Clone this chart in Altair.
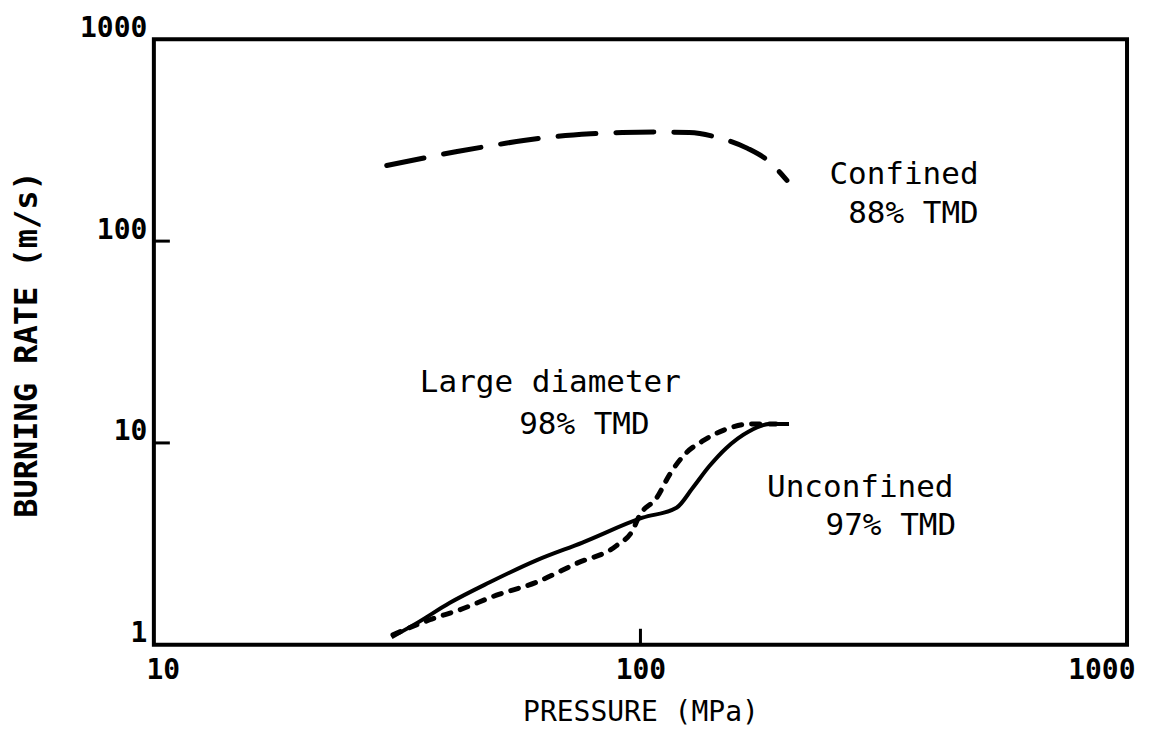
import altair as alt
import pandas as pd

# Confined, 88% TMD (long dashes)
conf_p = [30.1, 36.4, 42.0, 49.7, 57.5, 67.2, 79.0, 91.8, 108, 126, 145, 166, 183, 200]
conf_r = [237, 260, 278, 298, 315, 330, 340, 345, 347, 345, 325, 288, 250, 200]

# Unconfined, 97% TMD (solid)
unc_p = [30.8, 34.7, 40.5, 49.0, 61.1, 76.0, 101, 118.6, 128, 138.6, 150, 167, 184, 202]
unc_r = [1.09, 1.28, 1.61, 2.04, 2.62, 3.21, 4.26, 4.77, 5.98, 7.68, 9.42, 11.4, 12.4, 12.4]

# Large diameter, 98% TMD (dotted)
lrg_p = [31.0, 36.9, 42.5, 50.6, 61.1, 73.9, 89.3, 96.3, 99.5, 108, 115, 124, 134, 150, 167, 190]
lrg_r = [1.12, 1.33, 1.49, 1.76, 2.04, 2.53, 3.10, 3.68, 4.36, 5.35, 7.02, 8.90, 10.2, 11.7, 12.4, 12.4]

# annotations
ann_text = ["Confined", "88% TMD", "Large diameter", "98% TMD", "Unconfined", "97% TMD"]
ann_p = [348, 364, 65.3, 76.7, 283, 327]
ann_r = [212, 136, 19.7, 12.2, 5.98, 3.89]

x_ticks = [10, 100, 1000]
y_ticks = [1, 10, 100, 1000]

FONT = "DejaVu Sans Mono"

def frame(p, r):
    return pd.DataFrame({"p": p, "r": r, "i": list(range(len(p)))})

xs = alt.Scale(type="log", domain=[10, 1000])
ys = alt.Scale(type="log", domain=[1, 1000])

xenc = alt.X("p:Q", scale=xs, axis=alt.Axis(
    values=x_ticks, format="d", title="PRESSURE (MPa)", grid=False, domain=False, ticks=False,
    labelFont=FONT, labelFontSize=28, labelFontWeight="bold", labelColor="black",
    labelPadding=12, labelFlush=True, labelFlushOffset=8,
    titleFont=FONT, titleFontSize=28, titleFontWeight="normal", titleColor="black",
    titleY=68, titleBaseline="middle"))
yenc = alt.Y("r:Q", scale=ys, axis=alt.Axis(
    values=y_ticks, format="d", title="BURNING RATE (m/s)", grid=False, domain=False, ticks=False,
    labelFont=FONT, labelFontSize=28, labelFontWeight="bold", labelColor="black",
    labelPadding=7, labelBaseline="alphabetic", labelOffset=-3,
    titleFont=FONT, titleFontSize=32, titleFontWeight="bold", titleColor="black",
    titleX=-127, titleY=305, titleAngle=-90, titleAlign="center", titleBaseline="middle"))

confined = alt.Chart(frame(conf_p, conf_r)).mark_line(
    color="black", strokeWidth=5, strokeDash=[38, 20], interpolate="monotone", strokeCap="round"
).encode(x=xenc, y=yenc, order="i:Q")

unconf = alt.Chart(frame(unc_p, unc_r)).mark_line(
    color="black", strokeWidth=4, interpolate="monotone"
).encode(x="p:Q", y="r:Q", order="i:Q")

large = alt.Chart(frame(lrg_p, lrg_r)).mark_line(
    color="black", strokeWidth=5, strokeDash=[8, 10], interpolate="monotone", strokeCap="round"
).encode(x="p:Q", y="r:Q", order="i:Q")

ann = alt.Chart(pd.DataFrame({"t": ann_text, "p": ann_p, "r": ann_r})).mark_text(
    font=FONT, fontSize=31, color="black", align="center", baseline="middle"
).encode(x="p:Q", y="r:Q", text="t:N")

xtick = alt.Chart(pd.DataFrame({"p": [100]})).mark_rule(color="black", strokeWidth=3).encode(
    x="p:Q", y=alt.value(606), y2=alt.value(590))
ytick = alt.Chart(pd.DataFrame({"r": [10, 100]})).mark_rule(color="black", strokeWidth=3).encode(
    y="r:Q", x=alt.value(0), x2=alt.value(16))

chart = alt.layer(confined, unconf, large, ann, xtick, ytick).properties(
    width=974, height=606,
    autosize=alt.AutoSizeParams(type="none"),
    padding={"left": 146, "top": 31, "right": 26, "bottom": 83},
    background="white",
).configure_view(stroke="black", strokeWidth=4)

chart.save("out.html", embed_options={"renderer": "svg", "actions": False})
